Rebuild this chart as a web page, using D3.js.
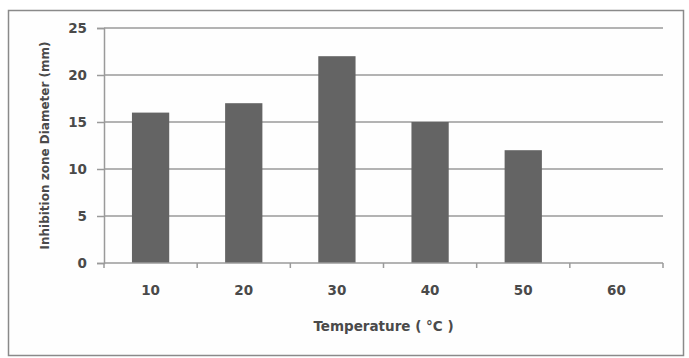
<!DOCTYPE html>
<html>
<head>
<meta charset="utf-8">
<script src="https://cdn.jsdelivr.net/npm/d3@7"></script>
<style>
  body { margin: 0; background: #fff; }
  text { font-family: "DejaVu Sans", Verdana, sans-serif; font-weight: bold; fill: #4a4a4a; }
</style>
</head>
<body>
<svg id="chart" width="689" height="358"></svg>
<script>
// data
const temperatures = ["10", "20", "30", "40", "50", "60"];
const diameters = [16, 17, 22, 15, 12, 0];
const yTicks = [0, 5, 10, 15, 20, 25];

const svg = d3.select("#chart");
const margin = { left: 104, right: 26, top: 28, bottom: 95 };
const W = 689, H = 358;

// outer frame
svg.append("rect")
    .attr("x", 8.5).attr("y", 10.5)
    .attr("width", 675).attr("height", 345)
    .attr("fill", "#fefefe")
    .attr("stroke", "#8a8a8a")
    .attr("stroke-width", 1.5);

const x = d3.scaleBand()
    .domain(temperatures)
    .range([margin.left, W - margin.right])
    .paddingInner(0.6)
    .paddingOuter(0.3);

const y = d3.scaleLinear()
    .domain([0, 25])
    .range([H - margin.bottom, margin.top]);

// gridlines
svg.append("g")
    .selectAll("line")
    .data(yTicks.filter(d => d > 0))
    .join("line")
    .attr("x1", margin.left).attr("x2", W - margin.right)
    .attr("y1", d => y(d)).attr("y2", d => y(d))
    .attr("stroke", "#9a9a9a")
    .attr("stroke-width", 1.5);

// bars
svg.append("g")
    .selectAll("rect")
    .data(diameters)
    .join("rect")
    .attr("x", (d, i) => x(temperatures[i]))
    .attr("y", d => y(d))
    .attr("width", x.bandwidth())
    .attr("height", d => y(0) - y(d))
    .attr("fill", "#646464");

// y axis
const yAxis = svg.append("g")
    .attr("transform", `translate(${margin.left},0)`)
    .call(d3.axisLeft(y).tickValues(yTicks).tickSize(7).tickPadding(10));
yAxis.select(".domain").attr("stroke", "#9a9a9a").attr("stroke-width", 1.5);
yAxis.selectAll(".tick line").attr("stroke", "#9a9a9a").attr("stroke-width", 1.5);
yAxis.selectAll(".tick text").style("font-size", "13.5px").attr("fill", "#4a4a4a");

// x axis: ticks sit between categories
const step = x.step();
const xEdges = d3.range(temperatures.length + 1).map(i => margin.left + i * step);
const xAxis = svg.append("g")
    .attr("transform", `translate(0,${y(0)})`);
xAxis.append("line")
    .attr("x1", margin.left).attr("x2", W - margin.right)
    .attr("stroke", "#9a9a9a").attr("stroke-width", 1.5);
xAxis.selectAll("line.tk")
    .data(xEdges)
    .join("line")
    .attr("class", "tk")
    .attr("x1", d => d).attr("x2", d => d)
    .attr("y1", 0).attr("y2", 5)
    .attr("stroke", "#9a9a9a").attr("stroke-width", 1.5);
xAxis.selectAll("text")
    .data(temperatures)
    .join("text")
    .attr("x", d => x(d) + x.bandwidth() / 2)
    .attr("y", 32)
    .attr("text-anchor", "middle")
    .style("font-size", "13.5px")
    .text(d => d);

// axis titles
svg.append("text")
    .attr("x", (margin.left + W - margin.right) / 2)
    .attr("y", 331)
    .attr("text-anchor", "middle")
    .style("font-size", "13.5px")
    .text("Temperature ( °C )");

svg.append("text")
    .attr("transform", `translate(49,${(y(0) + y(25)) / 2}) rotate(-90)`)
    .attr("text-anchor", "middle")
    .style("font-size", "12px")
    .text("Inhibition zone Diameter (mm)");
</script>
</body>
</html>
